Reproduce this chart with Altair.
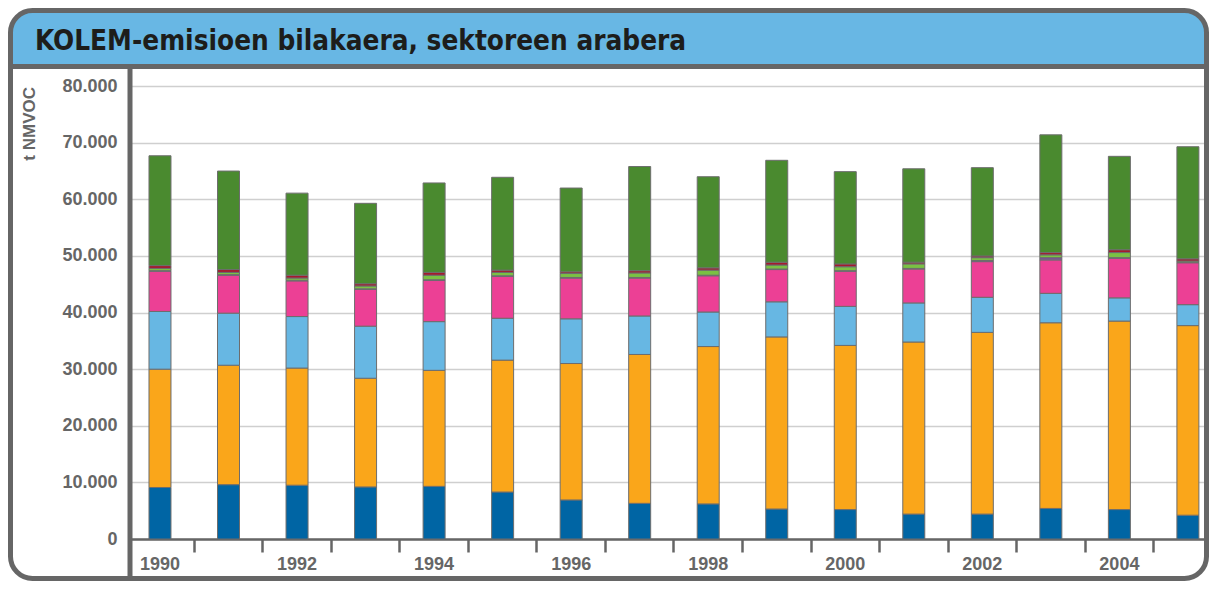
import altair as alt
import pandas as pd

years = list(range(1990, 2006))
sectors = ["Sektorea 1", "Sektorea 2", "Sektorea 3", "Sektorea 4",
           "Sektorea 5", "Sektorea 6", "Sektorea 7", "Sektorea 8"]
colors = ["#0065A4", "#FAA61A", "#67B7E3", "#EC4095",
          "#7B4F9D", "#7AC143", "#A6192E", "#4A8A2F"]

s1 = [9100, 9600, 9500, 9200, 9300, 8300, 6900, 6300, 6200, 5300, 5200, 4400, 4400, 5400, 5200, 4200]
s2 = [20900, 21100, 20700, 19200, 20500, 23300, 24100, 26300, 27800, 30400, 29000, 30400, 32100, 32800, 33300, 33500]
s3 = [10200, 9200, 9100, 9200, 8600, 7400, 7900, 6800, 6100, 6200, 6900, 6900, 6200, 5200, 4100, 3700]
s4 = [7100, 6700, 6300, 6500, 7300, 7400, 7200, 6700, 6400, 5700, 6200, 6000, 6300, 5900, 7000, 7400]
s5 = [100, 100, 100, 100, 100, 100, 100, 100, 100, 100, 100, 100, 200, 400, 100, 100]
s6 = [400, 400, 400, 500, 800, 600, 700, 800, 900, 700, 700, 800, 500, 500, 900, 200]
s7 = [500, 500, 500, 400, 500, 400, 300, 400, 400, 500, 500, 300, 300, 400, 500, 400]
s8 = [19400, 17400, 14500, 14200, 15800, 16400, 14800, 18400, 16100, 18000, 16300, 16500, 15600, 20800, 16500, 19800]

y_ticks = [0, 10000, 20000, 30000, 40000, 50000, 60000, 70000, 80000]
title_text = "KOLEM-emisioen bilakaera, sektoreen arabera"
y_title = "t NMVOC"

series = [s1, s2, s3, s4, s5, s6, s7, s8]
rows = []
for k, (name, vals) in enumerate(zip(sectors, series)):
    for yr, v in zip(years, vals):
        rows.append({"year": yr, "sector": name, "idx": k, "value": v})
df = pd.DataFrame(rows)

W, H = 1075, 467
GRAY = "#666666"
one = alt.Data(values=[{"a": 1}])

band = alt.Chart(one).mark_rect(
    color="#68B7E4", cornerRadiusTopLeft=22, cornerRadiusTopRight=22
).encode(x=alt.value(-119.5), x2=alt.value(1076.5), y=alt.value(-61.5), y2=alt.value(-8))

sep = alt.Chart(one).mark_rect(color=GRAY).encode(
    x=alt.value(-119.5), x2=alt.value(1076.5), y=alt.value(-8), y2=alt.value(-3))

frame = alt.Chart(one).mark_rect(
    fill="transparent", stroke=GRAY, strokeWidth=5, cornerRadius=22
).encode(x=alt.value(-119.5), x2=alt.value(1076.5), y=alt.value(-61.5), y2=alt.value(506.5))

title = alt.Chart(one).mark_text(
    text=title_text, font="DejaVu Sans Condensed, sans-serif",
    fontWeight="bold", fontSize=27.7, color="#1d1d1b", align="left", baseline="alphabetic"
).encode(x=alt.value(-95), y=alt.value(-22))

ytitle = alt.Chart(one).mark_text(
    text=y_title, font="Liberation Sans, Arial, sans-serif", fontWeight="bold",
    fontSize=17, color=GRAY, angle=270, align="right", baseline="middle"
).encode(x=alt.value(-100), y=alt.value(15))

bars = alt.Chart(df).mark_bar(stroke="#6d6d6d", strokeWidth=1).encode(
    x=alt.X("year:O",
            scale=alt.Scale(paddingInner=0.679, paddingOuter=0.183, align=0.757),
            axis=alt.Axis(title=None, labelAngle=0, grid=False,
                          domain=True, domainColor=GRAY, domainWidth=2.5,
                          ticks=True, tickColor=GRAY, tickWidth=2.5, tickSize=13,
                          bandPosition=2.058, tickExtra=False,
                          labelExpr="datum.value % 2 == 0 ? datum.label : ''",
                          labelFont="Liberation Sans, Arial, sans-serif",
                          labelFontWeight="bold", labelFontSize=18,
                          labelColor=GRAY, labelPadding=3)),
    y=alt.Y("value:Q", stack="zero",
            scale=alt.Scale(domain=[0, 82500], nice=False, zero=True),
            axis=alt.Axis(title=None, values=y_ticks, domain=False, ticks=False,
                          grid=True, gridColor="#cfcfcf", gridWidth=1.5,
                          labelExpr="replace(format(datum.value, ','), ',', '.')",
                          labelFont="Liberation Sans, Arial, sans-serif",
                          labelFontWeight="bold", labelFontSize=18,
                          labelColor=GRAY, labelPadding=13)),
    color=alt.Color("sector:N", scale=alt.Scale(domain=sectors, range=colors), legend=None),
    order=alt.Order("idx:Q", sort="ascending"),
)

yrule = alt.Chart(one).mark_rule(color=GRAY, strokeWidth=5).encode(
    x=alt.value(0), y=alt.value(-3), y2=alt.value(506.5))

chart = alt.layer(band, sep, frame, title, ytitle, bars, yrule).properties(
    width=W, height=H,
    autosize=alt.AutoSizeParams(type="none"),
    padding={"left": 122, "top": 64, "right": 4, "bottom": 42},
    background="white",
).configure_view(strokeWidth=0)

chart.save("out.html", embed_options={"renderer": "svg", "actions": False})
